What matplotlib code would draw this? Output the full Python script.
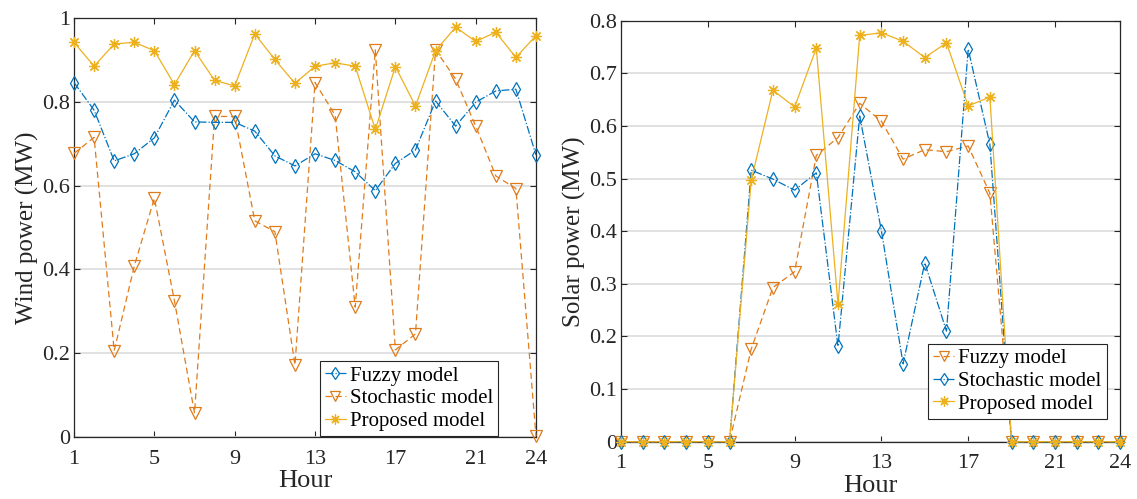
"""Wind / solar power comparison, fuzzy vs stochastic vs proposed."""
import matplotlib
matplotlib.use("Agg")
import matplotlib.pyplot as plt
import numpy as np

plt.rcParams["font.family"] = ["Liberation Serif", "DejaVu Serif"]

hours = np.arange(1, 25)
xticks = [1, 5, 9, 13, 17, 21, 24]

# wind (left panel)
wind_fuzzy = [0.846, 0.780, 0.659, 0.676, 0.714, 0.804, 0.752, 0.751, 0.751, 0.730,
              0.671, 0.647, 0.676, 0.660, 0.633, 0.588, 0.653, 0.685, 0.802, 0.742,
              0.799, 0.826, 0.830, 0.673]
wind_stoch = [0.677, 0.715, 0.206, 0.408, 0.570, 0.325, 0.057, 0.765, 0.765, 0.516,
              0.490, 0.172, 0.846, 0.768, 0.310, 0.924, 0.208, 0.246, 0.924, 0.854,
              0.742, 0.623, 0.593, 0.002]
wind_prop = [0.942, 0.885, 0.938, 0.942, 0.922, 0.841, 0.922, 0.851, 0.838, 0.962,
             0.901, 0.844, 0.885, 0.893, 0.885, 0.734, 0.884, 0.790, 0.922, 0.978,
             0.944, 0.966, 0.906, 0.958]

# solar (right panel)
solar_fuzzy = [0, 0, 0, 0, 0, 0, 0.176, 0.293, 0.323, 0.544, 0.578, 0.643, 0.609,
               0.537, 0.555, 0.551, 0.562, 0.472, 0, 0, 0, 0, 0, 0]
solar_stoch = [0, 0, 0, 0, 0, 0, 0.516, 0.499, 0.478, 0.511, 0.181, 0.619, 0.401,
               0.148, 0.340, 0.210, 0.746, 0.565, 0, 0, 0, 0, 0, 0]
solar_prop = [0, 0, 0, 0, 0, 0, 0.497, 0.668, 0.636, 0.748, 0.261, 0.772, 0.777,
              0.761, 0.730, 0.758, 0.638, 0.655, 0, 0, 0, 0, 0, 0]

BLUE = "#0072BD"
ORANGE = "#E07B1A"
YELLOW = "#EDB120"
AST = (8, 2, 0)
FS = 16

blue_kw = dict(color=BLUE, ls="-.", lw=0.9, marker="d", ms=7, mfc="none", mew=0.9,
               clip_on=False)
orange_kw = dict(color=ORANGE, ls="--", lw=0.9, marker="v", ms=8, mfc="none", mew=0.9,
                 dashes=(5, 3), clip_on=False)
yellow_kw = dict(color=YELLOW, ls="-", lw=0.9, marker=AST, ms=8, mew=0.9, clip_on=False)


def style(ax, ylim, yticks, ylabels, ylabel):
    ax.set_xlim(1, 24)
    ax.set_ylim(*ylim)
    ax.set_xticks(xticks)
    ax.set_xticklabels([str(t) for t in xticks], fontsize=FS)
    ax.set_yticks(yticks)
    ax.set_yticklabels(ylabels, fontsize=FS)
    ax.tick_params(direction="in", top=True, right=True, length=4, width=0.8,
                   colors="#262626")
    ax.tick_params(axis="x", pad=9)
    ax.tick_params(axis="y", pad=3)
    ax.yaxis.grid(True, color="#dcdcdc", lw=1.2)
    ax.set_axisbelow(True)
    for s in ax.spines.values():
        s.set_color("#262626")
        s.set_linewidth(0.9)
    ax.set_xlabel("Hour", fontsize=19, labelpad=1, color="#262626")
    ax.set_ylabel(ylabel, fontsize=18, labelpad=2, color="#262626")


fig = plt.figure(figsize=(11.37, 4.99), dpi=100)
ax1 = fig.add_axes([0.0651, 0.1242, 0.4063, 0.8397])
ax2 = fig.add_axes([0.5462, 0.1148, 0.4389, 0.8437])

ax1.plot(hours, wind_stoch, **orange_kw, label="Stochastic model", zorder=3)
ax1.plot(hours, wind_fuzzy, **blue_kw, label="Fuzzy model", zorder=4)
ax1.plot(hours, wind_prop, **yellow_kw, label="Proposed model", zorder=5)
style(ax1, (0, 1), np.arange(0, 1.01, 0.2), ["0", "0.2", "0.4", "0.6", "0.8", "1"],
      "Wind power (MW)")
h, l = ax1.get_legend_handles_labels()
leg1 = ax1.legend([h[1], h[0], h[2]], [l[1], l[0], l[2]], loc="lower left",
                  bbox_to_anchor=(0.532, 0.002), borderaxespad=0, fontsize=15,
                  fancybox=False, framealpha=1, edgecolor="#262626",
                  handlelength=1.0, handletextpad=0.2, labelspacing=0.15,
                  borderpad=0.25, markerscale=0.9)
leg1.get_frame().set_linewidth(0.8)

ax2.plot(hours, solar_fuzzy, **orange_kw, label="Fuzzy model", zorder=3)
ax2.plot(hours, solar_stoch, **blue_kw, label="Stochastic model", zorder=4)
ax2.plot(hours, solar_prop, **yellow_kw, label="Proposed model", zorder=5)
style(ax2, (0, 0.8), np.arange(0, 0.81, 0.1),
      ["0", "0.1", "0.2", "0.3", "0.4", "0.5", "0.6", "0.7", "0.8"], "Solar power (MW)")
leg2 = ax2.legend(loc="lower left", bbox_to_anchor=(0.615, 0.054), borderaxespad=0,
                  fontsize=15, fancybox=False, framealpha=1, edgecolor="#262626",
                  handlelength=1.0, handletextpad=0.2, labelspacing=0.15,
                  borderpad=0.25, markerscale=0.9)
leg2.get_frame().set_linewidth(0.8)

fig.savefig("out.png", dpi=100)
